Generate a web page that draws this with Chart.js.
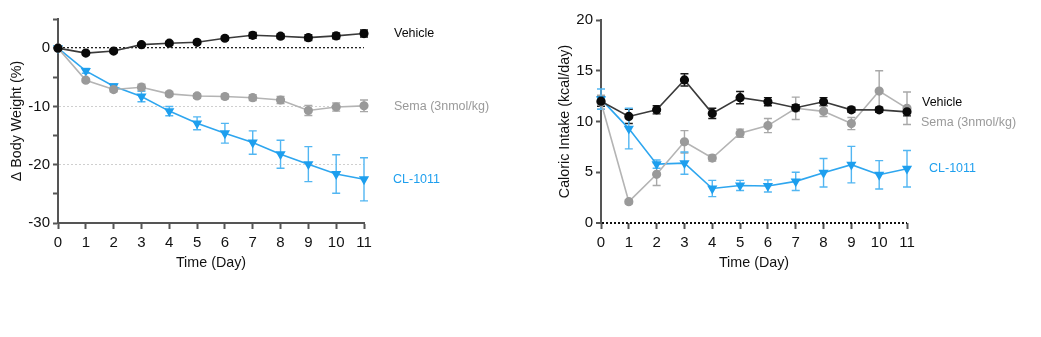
<!DOCTYPE html>
<html><head><meta charset="utf-8">
<script src="https://cdn.jsdelivr.net/npm/chart.js@4/dist/chart.umd.min.js"></script>
<style>
html,body{margin:0;padding:0;background:#fff;width:1041px;height:337px;overflow:hidden;}
.box{position:absolute;top:0;height:300px;}
</style></head><body>
<div class="box" style="left:0;width:530px"><canvas id="c1"></canvas></div>
<div class="box" style="left:540px;width:500px"><canvas id="c2"></canvas></div>
<script>
// ---- data ----
const days = [0,1,2,3,4,5,6,7,8,9,10,11];
const seriesNames = ['Vehicle','Sema (3nmol/kg)','CL-1011'];

// Δ Body Weight (%)
const bwVehicle    = [0,-0.85,-0.5,0.6,0.85,1.0,1.7,2.2,2.05,1.8,2.1,2.5];
const bwVehicleErr = [0,0.3,0.3,0.3,0.3,0.3,0.3,0.5,0.4,0.5,0.5,0.6];
const bwSema       = [0,-5.5,-7.1,-6.7,-7.85,-8.2,-8.3,-8.5,-8.9,-10.7,-10.1,-9.9];
const bwSemaErr    = [0,0.3,0.4,0.5,0.4,0.4,0.4,0.5,0.6,0.85,0.7,1.0];
const bwCL         = [0,-3.9,-6.55,-8.3,-10.8,-12.9,-14.6,-16.2,-18.2,-19.9,-21.6,-22.5];
const bwCLErr      = [0,0.4,0.4,0.9,0.8,1.1,1.7,2.0,2.4,3.0,3.3,3.7];

// Caloric Intake (kcal/day)
const kcalVehicle    = [12.0,10.5,11.15,14.1,10.8,12.35,11.95,11.35,11.95,11.15,11.15,10.95];
const kcalVehicleErr = [0.5,0.7,0.4,0.6,0.5,0.6,0.4,0.3,0.4,0.25,0.25,0.4];
const kcalSema       = [11.9,2.1,4.8,8.0,6.4,8.85,9.6,11.3,11.0,9.8,13.0,11.3];
const kcalSemaErr    = [0.7,0.2,1.1,1.1,0.3,0.4,0.7,1.1,0.5,0.6,2.0,1.6];
const kcalCL         = [12.2,9.3,5.8,5.9,3.4,3.7,3.65,4.1,4.95,5.75,4.75,5.35];
const kcalCLErr      = [1.0,2.0,0.4,1.1,0.8,0.5,0.6,0.9,1.4,1.8,1.4,1.8];

// ---- styles ----
const FONT = '"Liberation Sans", Arial, Helvetica, sans-serif';
const COL = {
  vehicle: {line:'#3a3a3a', point:'#0a0a0a', err:'#1a1a1a', text:'#0a0a0a'},
  sema:    {line:'#b4b4b4', point:'#9a9a9a', err:'#a8a8a8', text:'#9a9a9a'},
  cl:      {line:'#2ea6ef', point:'#1e9fee', err:'#52b6f2', text:'#1e9fee'}
};
const AXIS = '#555555';

const pts = (vals) => days.map((d,i)=>({x:d, y:vals[i]}));

function mkDataset(name, vals, errs, c, style){
  return {
    label: name, data: pts(vals), errors: errs, clip: false,
    borderColor: c.line, backgroundColor: c.point, pointBackgroundColor: c.point,
    pointBorderColor: c.point, errorColor: c.err,
    borderWidth: 1.6, pointRadius: style==='triangle'?4.3:3.8, pointHoverRadius: 4,
    pointStyle: style, rotation: style==='triangle'?180:0, tension: 0
  };
}

const errorBars = {
  id:'errorBars',
  beforeDatasetsDraw(chart){
    const {ctx, scales:{x,y}} = chart;
    chart.data.datasets.forEach((ds)=>{
      if(!ds.errors) return;
      ctx.save();
      ctx.strokeStyle = ds.errorColor; ctx.lineWidth = 1.4;
      ds.data.forEach((p,j)=>{
        const e = ds.errors[j]; if(!e) return;
        const px = x.getPixelForValue(p.x);
        const y1 = y.getPixelForValue(p.y+e), y2 = y.getPixelForValue(p.y-e);
        ctx.beginPath();
        ctx.moveTo(px,y1); ctx.lineTo(px,y2);
        ctx.moveTo(px-4,y1); ctx.lineTo(px+4,y1);
        ctx.moveTo(px-4,y2); ctx.lineTo(px+4,y2);
        ctx.stroke();
      });
      ctx.restore();
    });
  }
};

const seriesLabels = {
  id:'seriesLabels',
  afterDraw(chart, args, opts){
    const {ctx, chartArea, scales:{y}} = chart;
    ctx.save();
    ctx.font = '12.5px ' + FONT;
    ctx.textBaseline = 'middle'; ctx.textAlign = 'left';
    (opts.items||[]).forEach(it=>{
      ctx.fillStyle = it.color;
      ctx.fillText(it.text, chartArea.right + it.dx, y.getPixelForValue(it.value));
    });
    ctx.restore();
  }
};

function baseOptions(cfg){
  return {
    responsive:true, maintainAspectRatio:false, animation:false,
    layout:{padding:cfg.padding},
    plugins:{legend:{display:false}, tooltip:{enabled:false},
      seriesLabels:{items:cfg.labels}},
    scales:{
      x:{type:'linear', min:0, max:11,
        afterFit:(s)=>{s.height = cfg.xHeight;},
        ticks:{stepSize:1, color:'#111', font:{family:FONT, size:15}, padding:5, maxRotation:0},
        grid:{drawOnChartArea:false, tickColor:AXIS, tickLength:6, tickWidth:2},
        border:{display:cfg.xBorder, color:AXIS, width:2},
        title:{display:true, text:'Time (Day)', color:'#111', font:{family:FONT, size:14.3}, padding:0}
      },
      y:{min:cfg.yMin, max:cfg.yMax,
        afterFit:(s)=>{s.width = cfg.yWidth;},
        ticks:{stepSize:5, color:'#111', font:{family:FONT, size:15}, padding:3,
          callback:(v)=> (v % cfg.labelStep === 0 ? String(v) : '')},
        grid:{color:cfg.gridColor, lineWidth:cfg.gridWidth, tickColor:AXIS, tickLength:5, tickWidth:2, tickBorderDash:[]},
        border:{color:AXIS, width:2, dash:[2,2]},
        title:{display:true, text:cfg.yTitle, color:'#111', font:{family:FONT, size:14.3}, padding:0}
      }
    }
  };
}

new Chart(document.getElementById('c1'), {
  type:'line',
  data:{datasets:[
    mkDataset(seriesNames[0], bwVehicle, bwVehicleErr, COL.vehicle, 'circle'),
    mkDataset(seriesNames[1], bwSema, bwSemaErr, COL.sema, 'circle'),
    mkDataset(seriesNames[2], bwCL, bwCLErr, COL.cl, 'triangle')
  ]},
  options: baseOptions({
    padding:{left:8, top:19, right:166, bottom:28},
    xHeight:49, yWidth:50, yMin:-30, yMax:5, labelStep:10, xBorder:true,
    yTitle:'Δ Body Weight (%)',
    gridColor:(c)=> c.tick.value===0 ? '#222' : ((c.tick.value===-10||c.tick.value===-20) ? '#cfcfcf' : 'rgba(0,0,0,0)'),
    gridWidth:(c)=> c.tick.value===0 ? 1.3 : 1,
    labels:[
      {text:seriesNames[0], value:2.5, dx:30, color:COL.vehicle.text},
      {text:seriesNames[1], value:-10, dx:30, color:COL.sema.text},
      {text:seriesNames[2], value:-22.6, dx:29, color:COL.cl.text}
    ]
  }),
  plugins:[errorBars, seriesLabels]
});

new Chart(document.getElementById('c2'), {
  type:'line',
  data:{datasets:[
    mkDataset(seriesNames[0], kcalVehicle, kcalVehicleErr, COL.vehicle, 'circle'),
    mkDataset(seriesNames[1], kcalSema, kcalSemaErr, COL.sema, 'circle'),
    mkDataset(seriesNames[2], kcalCL, kcalCLErr, COL.cl, 'triangle')
  ]},
  options: baseOptions({
    padding:{left:16, top:20, right:133, bottom:28},
    xHeight:49, yWidth:45, yMin:0, yMax:20, labelStep:5, xBorder:false,
    yTitle:'Caloric Intake (kcal/day)',
    gridColor:(c)=> c.tick.value===0 ? '#111' : 'rgba(0,0,0,0)',
    gridWidth:(c)=> c.tick.value===0 ? 2 : 1,
    labels:[
      {text:seriesNames[0], value:11.85, dx:15, color:COL.vehicle.text},
      {text:seriesNames[1], value:9.86, dx:14, color:COL.sema.text},
      {text:seriesNames[2], value:5.35, dx:22, color:COL.cl.text}
    ]
  }),
  plugins:[errorBars, seriesLabels]
});
</script>
</body></html>
